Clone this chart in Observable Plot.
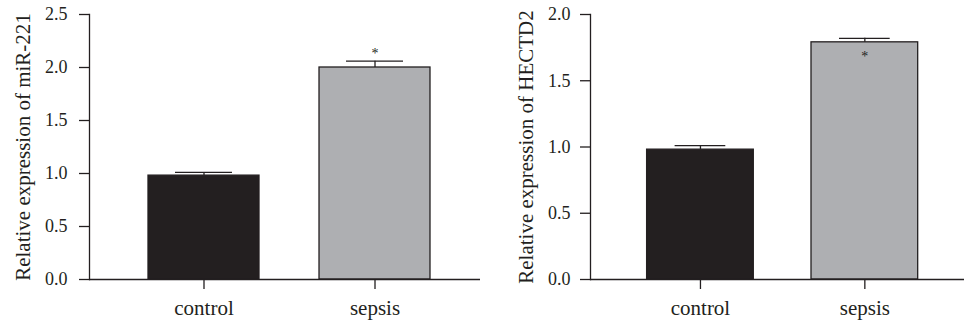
<!DOCTYPE html>
<html>
<head>
<meta charset="utf-8">
<script src="https://cdn.jsdelivr.net/npm/d3@7"></script>
<script src="https://cdn.jsdelivr.net/npm/@observablehq/plot@0.6"></script>
<style>
  html, body { margin: 0; padding: 0; background: #fff; }
  #wrap { display: flex; flex-direction: row; width: 964px; height: 323px; }
  #wrap svg, #wrap svg text { font-family: "Liberation Serif", "Times New Roman", serif !important; }
</style>
</head>
<body>
<div id="wrap"></div>
<script>
const groups = ["control", "sepsis"];
const mirMean = [0.98, 2.00];
const mirUpper = [1.01, 2.06];
const mirStar = 2.15;
const mirTicks = [0, 0.5, 1.0, 1.5, 2.0, 2.5];
const mirTitle = "Relative expression of miR-221";

const hectMean = [0.98, 1.79];
const hectUpper = [1.01, 1.82];
const hectStar = 1.70;
const hectTicks = [0, 0.5, 1.0, 1.5, 2.0];
const hectTitle = "Relative expression of HECTD2";

const fills = ["#231f20", "#aeafb2"];
const ink = "#231f20";
const font = "Liberation Serif";

function panel({mean, upper, star, ticks, title, width, marginLeft, marginRight, xRange, yMax, capInset, titleOffset, tickPadding}) {
  const rows = groups.map((g, i) => ({g, v: mean[i], u: upper[i], fill: fills[i]}));
  return Plot.plot({
    width, height: 323,
    marginLeft, marginRight, marginTop: 14, marginBottom: 44,
    style: {fontFamily: font, color: ink, background: "#fff", overflow: "visible"},
    x: {type: "band", domain: groups, range: xRange, paddingInner: 0.351, paddingOuter: 0.3, round: false, axis: null},
    y: {domain: [0, yMax], axis: null},
    marks: [
      Plot.barY(rows, {x: "g", y: "v", fill: "fill", stroke: ink, strokeWidth: 1.3}),
      Plot.ruleX(rows, {x: "g", y1: "v", y2: "u", stroke: ink, strokeWidth: 1.3}),
      Plot.tickY(rows, {x: "g", y: "u", stroke: ink, strokeWidth: 1.3, insetLeft: capInset, insetRight: capInset}),
      Plot.text([star], {x: () => groups[1], y: d => d, text: () => "*", fontSize: 14, lineAnchor: "middle", dy: 2.4, fill: ink, fontFamily: font}),
      Plot.ruleY([0], {stroke: ink, strokeWidth: 1.3}),
      Plot.frame({anchor: "left", stroke: ink, strokeWidth: 1.3}),
      Plot.axisY({ticks, tickFormat: d3.format(".1f"), tickSize: 10, tickPadding, fontSize: 18, stroke: ink, strokeWidth: 1.3, fill: ink, label: null, fontFamily: font}),
      Plot.axisX({tickSize: 10, tickPadding: 11, fontSize: 21, stroke: ink, strokeWidth: 1.3, fill: ink, label: null, fontFamily: font}),
      Plot.text([title], {text: d => d, frameAnchor: "left", textAnchor: "middle", rotate: -90, dx: -titleOffset, lineAnchor: "middle", fontSize: 21, fill: ink, fontFamily: font})
    ]
  });
}

const wrap = document.getElementById("wrap");
wrap.appendChild(panel({
  mean: mirMean, upper: mirUpper, star: mirStar, ticks: mirTicks, title: mirTitle,
  width: 482, marginLeft: 89, marginRight: 2, xRange: [96.7, 481.3], yMax: 2.5,
  capInset: 27, titleOffset: 66, tickPadding: 12
}));
wrap.appendChild(panel({
  mean: hectMean, upper: hectUpper, star: hectStar, ticks: hectTicks, title: hectTitle,
  width: 482, marginLeft: 108, marginRight: 0, xRange: [115.3, 485], yMax: 2.0,
  capInset: 28, titleOffset: 64, tickPadding: 10
}));
</script>
</body>
</html>
